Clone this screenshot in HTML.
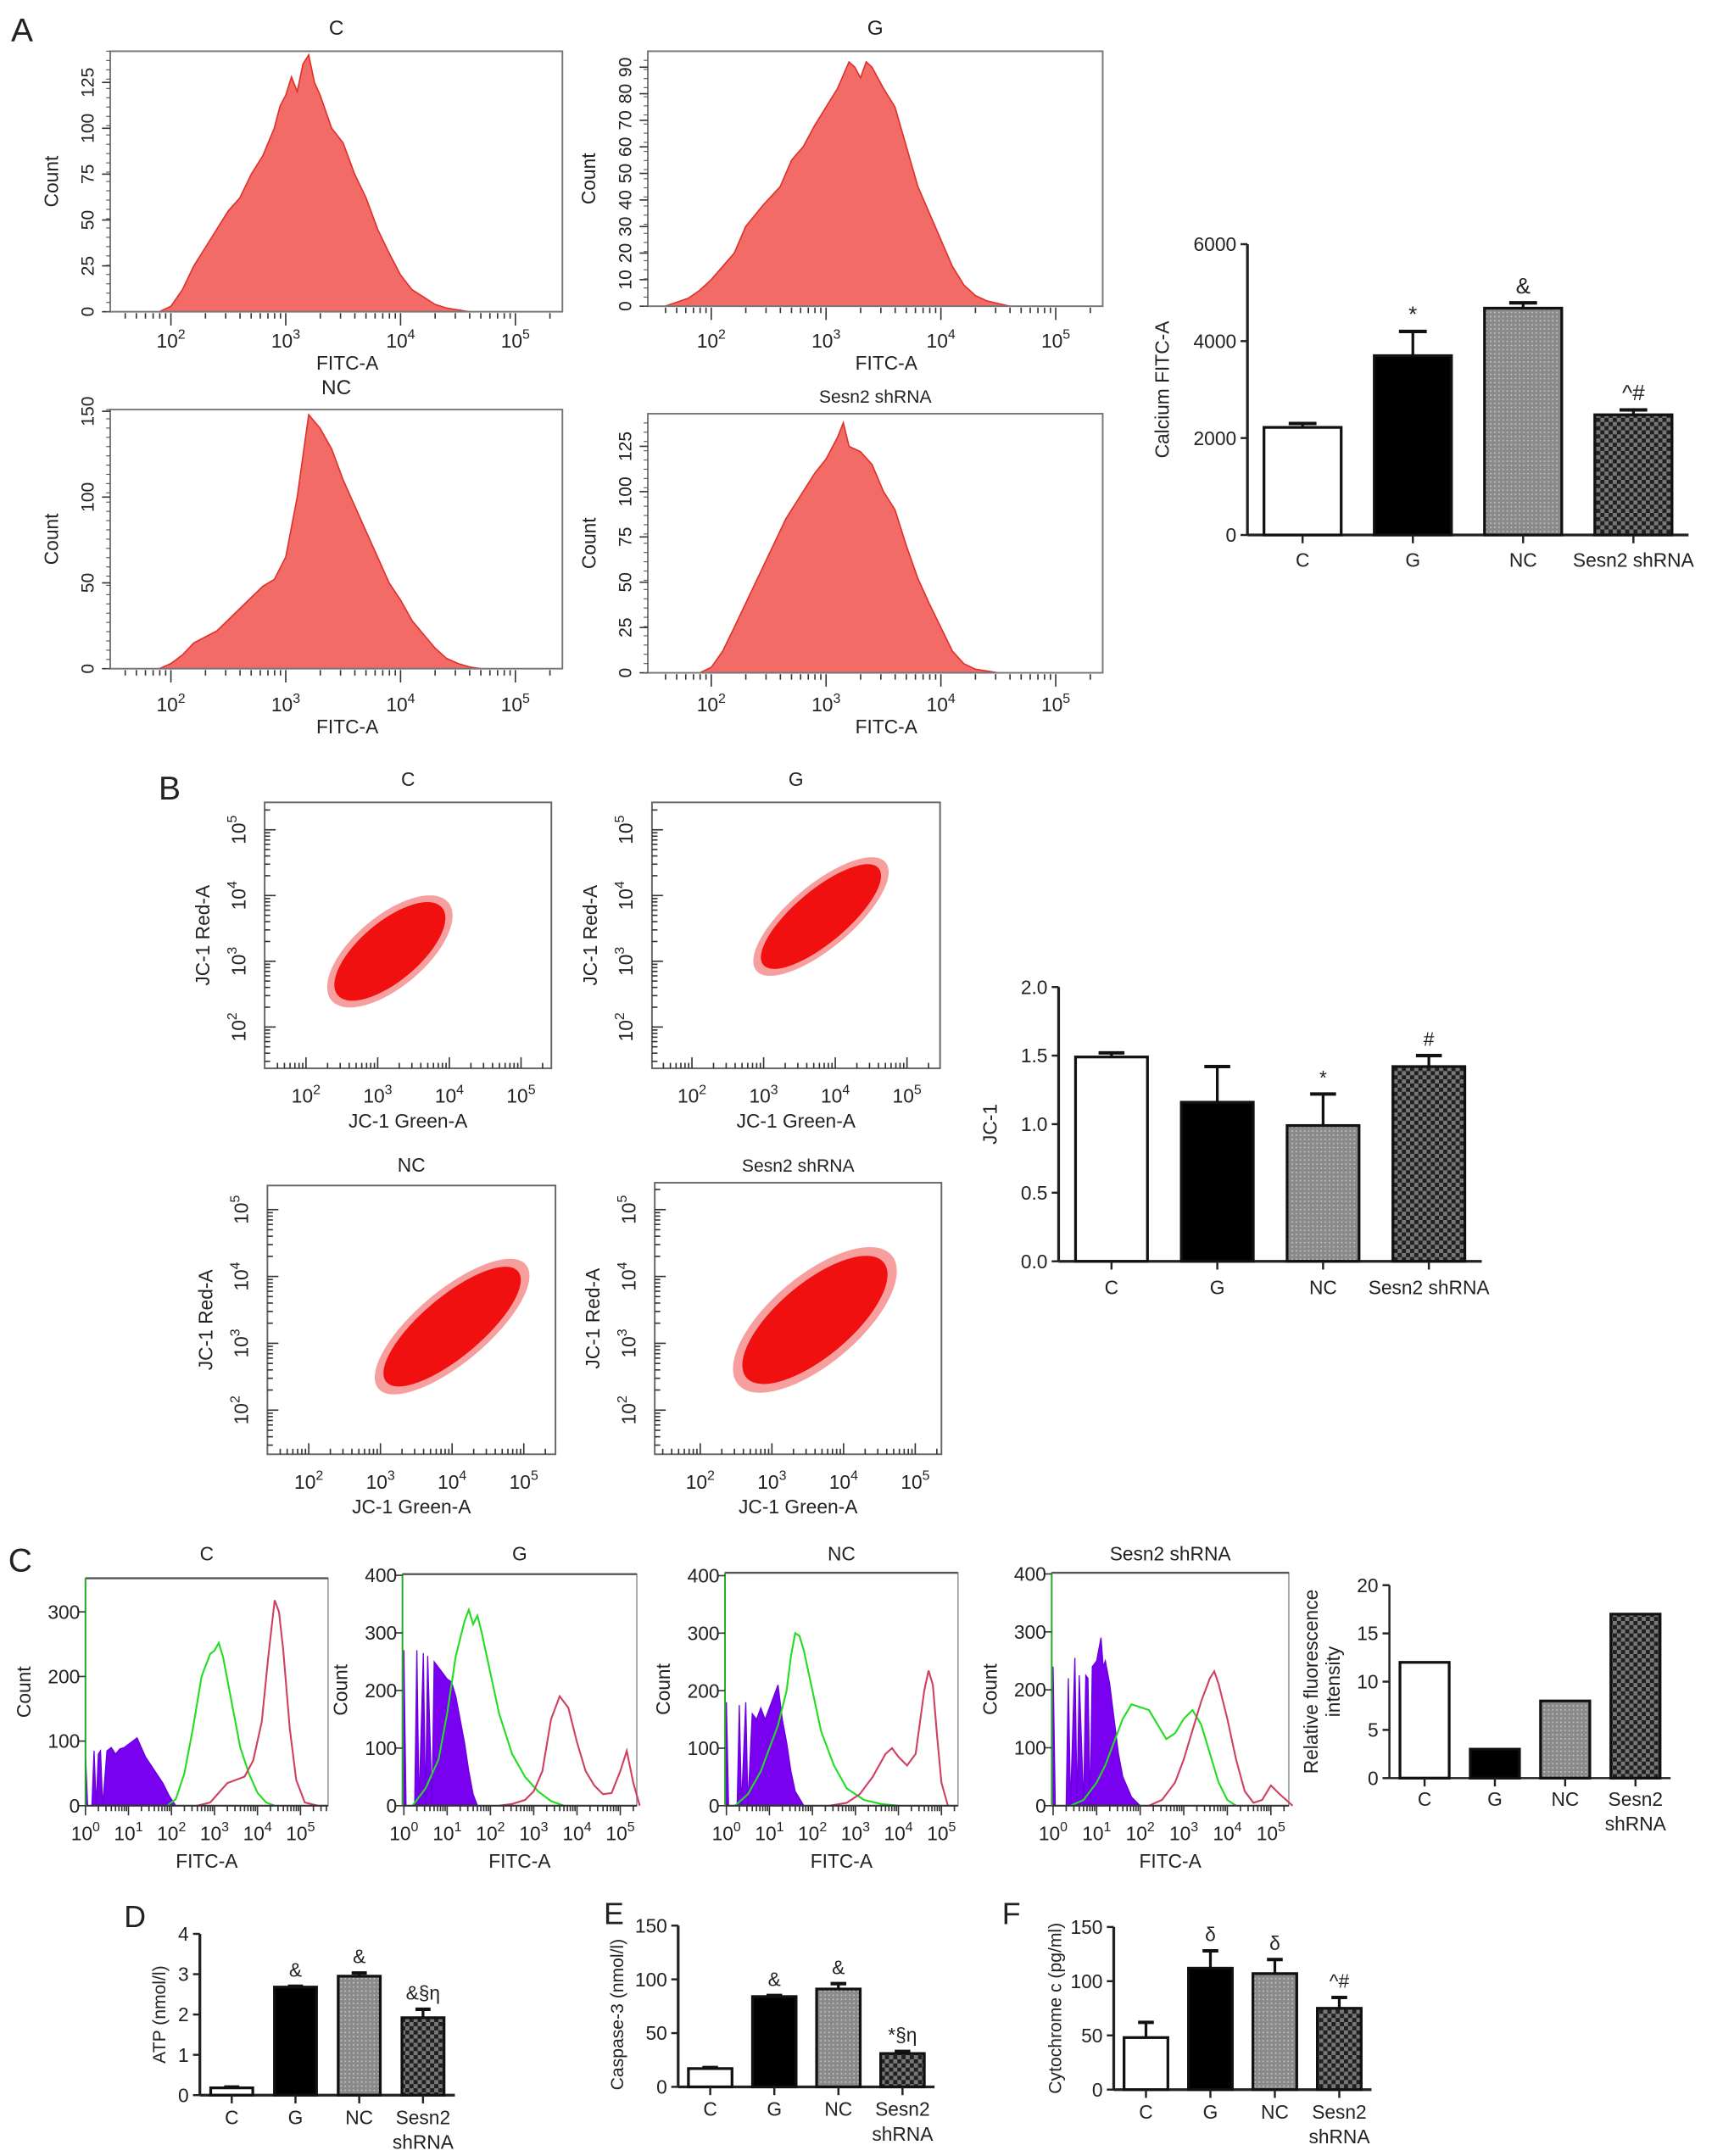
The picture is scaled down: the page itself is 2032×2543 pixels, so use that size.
<!DOCTYPE html>
<html><head><meta charset="utf-8"><style>
html,body{margin:0;padding:0;background:#fff;}
svg{display:block;font-family:"Liberation Sans",sans-serif;}
</style></head><body>
<svg id="fig" width="2032" height="2543" viewBox="0 0 1250 1564" xmlns="http://www.w3.org/2000/svg">
<defs>
<pattern id="dots" width="3" height="3" patternUnits="userSpaceOnUse"><rect width="3" height="3" fill="#8a8a8a"/><rect x="1" y="1" width="1" height="1" fill="#c8c8c8"/></pattern>
<pattern id="check" width="6" height="6" patternUnits="userSpaceOnUse"><rect width="6" height="6" fill="#202020"/><rect width="3" height="3" fill="#777"/><rect x="3" y="3" width="3" height="3" fill="#777"/></pattern>
</defs>
<g id="root"></g>
</svg>
<script>
// ---------- DATA ----------
const aC_x=[1.9,2.0,2.1,2.2,2.35,2.5,2.6,2.7,2.8,2.9,2.95,3.0,3.05,3.1,3.15,3.2,3.25,3.3,3.4,3.5,3.6,3.7,3.8,3.9,4.0,4.1,4.2,4.3,4.4,4.5,4.6];
const aC_y=[0,3,12,25,40,55,62,75,85,100,112,118,128,120,135,140,125,118,100,92,75,62,45,32,20,12,8,4,2,1,0];
const aG_x=[1.6,1.8,1.9,2.0,2.1,2.2,2.3,2.45,2.6,2.7,2.8,2.9,3.0,3.1,3.2,3.25,3.3,3.35,3.4,3.5,3.6,3.7,3.8,3.9,4.0,4.1,4.2,4.3,4.4,4.5,4.6];
const aG_y=[0,3,6,10,15,20,30,38,45,55,60,68,75,82,92,90,86,92,90,82,75,60,45,35,25,15,8,4,2,1,0];
const aNC_x=[1.9,2.0,2.1,2.2,2.4,2.6,2.8,2.9,3.0,3.1,3.2,3.3,3.4,3.5,3.6,3.7,3.8,3.9,4.0,4.1,4.2,4.3,4.4,4.5,4.6,4.7];
const aNC_y=[0,3,8,15,22,35,48,52,65,100,148,140,128,110,95,80,65,50,40,28,20,12,6,3,1,0];
const aS_x=[1.9,2.0,2.1,2.2,2.35,2.5,2.65,2.8,2.9,3.0,3.1,3.15,3.2,3.3,3.4,3.5,3.6,3.7,3.8,3.9,4.0,4.1,4.2,4.3,4.4,4.5];
const aS_y=[0,3,12,25,45,65,85,100,110,118,130,138,125,122,115,100,90,70,52,38,25,12,5,2,1,0];

const catsA=["C","G","NC","Sesn2 shRNA"];
const valsA=[2220,3700,4680,2480];
const errA=[2300,4200,4790,2580];
const annA=["","*","&","^#"];

const scCx=[3.17,3.80,4.00,3.60];
const scCy=[3.15,3.68,3.25,3.35];
const scMaj=[0.95,1.05,1.2,1.25];
const scMin=[0.45,0.4,0.45,0.55];
const scTitles=["C","G","NC","Sesn2 shRNA"];

const valsB=[1.49,1.16,0.99,1.42];
const errB=[1.52,1.42,1.22,1.50];
const annB=["","","*","#"];

const cC_px=[0,0.05,0.15,0.2,0.25,0.3,0.35,0.4,0.5,0.6,0.7,0.8,0.9,1.0,1.1,1.2,1.3,1.4,1.6,1.8,1.95,2.1];
const cC_py=[80,0,0,85,0,80,85,0,85,90,80,88,90,95,100,105,90,75,55,35,15,0];
const cC_gx=[1.9,2.1,2.3,2.5,2.7,2.9,3.0,3.1,3.2,3.4,3.6,3.8,4.0,4.2,4.4];
const cC_gy=[0,10,50,120,200,235,240,252,230,160,90,50,20,5,0];
const cC_rx=[2.6,2.9,3.1,3.3,3.5,3.7,3.9,4.1,4.25,4.4,4.5,4.6,4.75,4.9,5.1,5.4];
const cC_ry=[0,5,20,35,40,45,70,130,230,318,300,240,120,40,5,0];

const cG_px=[0,0.05,0.1,0.25,0.3,0.35,0.45,0.5,0.55,0.65,0.7,0.8,0.9,1.0,1.1,1.2,1.3,1.4,1.5,1.6,1.7];
const cG_py=[270,0,0,0,270,0,265,0,260,0,250,240,230,220,215,190,150,110,60,20,0];
const cG_gx=[0.2,0.5,0.8,1.0,1.2,1.4,1.5,1.6,1.7,1.8,2.0,2.2,2.5,2.8,3.1,3.4,3.7];
const cG_gy=[0,30,80,160,260,320,340,315,330,300,230,160,90,50,25,8,0];
const cG_rx=[2.2,2.5,2.8,3.0,3.2,3.4,3.6,3.8,4.0,4.2,4.4,4.6,4.8,5.0,5.15,5.3,5.45];
const cG_ry=[0,3,10,25,60,150,190,170,110,60,35,20,22,60,95,40,0];

const cNC_px=[0,0.05,0.1,0.25,0.3,0.35,0.45,0.5,0.6,0.7,0.8,0.9,1.0,1.1,1.2,1.3,1.4,1.5,1.6,1.8];
const cNC_py=[180,0,0,0,175,0,180,0,160,150,170,150,170,190,210,150,110,60,25,0];
const cNC_gx=[0.2,0.5,0.8,1.0,1.2,1.4,1.5,1.6,1.7,1.8,2.0,2.2,2.5,2.8,3.2,3.6,4.0];
const cNC_gy=[0,20,60,100,140,200,260,300,295,270,200,130,70,30,10,3,0];
const cNC_rx=[2.4,2.8,3.1,3.4,3.7,3.85,4.0,4.2,4.4,4.6,4.7,4.8,4.9,5.0,5.15];
const cNC_ry=[0,5,20,50,90,100,85,70,90,200,235,210,120,40,0];

const cS_px=[0,0.05,0.3,0.35,0.4,0.5,0.55,0.6,0.7,0.75,0.8,0.85,0.9,1.0,1.05,1.1,1.15,1.2,1.3,1.4,1.5,1.6,1.8,2.0];
const cS_py=[240,0,0,220,0,255,0,225,0,225,220,0,240,250,270,290,240,250,210,150,90,50,15,0];
const cS_gx=[0.4,0.7,1.0,1.2,1.4,1.6,1.8,2.0,2.2,2.4,2.6,2.8,3.0,3.2,3.4,3.6,3.8,4.0,4.2];
const cS_gy=[0,10,40,70,110,150,175,170,165,140,115,125,150,165,140,90,40,10,0];
const cS_rx=[2.2,2.5,2.8,3.0,3.2,3.4,3.6,3.7,3.8,4.0,4.2,4.4,4.6,4.8,5.0,5.2,5.5];
const cS_ry=[0,10,40,80,130,180,220,232,210,150,80,25,5,10,35,20,0];

const catsC=["C","G","NC","Sesn2|shRNA"];
const valsC=[12,3,8,17];

const catsDEF=["C","G","NC","Sesn2|shRNA"];
const valsD=[0.18,2.68,2.95,1.92];
const errD=[0.2,2.7,3.03,2.13];
const annD=["","&","&","&§η"];
const valsE=[17,84,91,31];
const errE=[18,85,96,33];
const annE=["","&","&","*§η"];
const valsF=[48,112,107,75];
const errF=[62,128,120,85];
const annF=["","δ","δ","^#"];

// ---------- DRAWING ----------
const NS="http://www.w3.org/2000/svg";
const root=document.getElementById('root');
function el(tag,attrs,parent){const e=document.createElementNS(NS,tag);for(const k in attrs)e.setAttribute(k,attrs[k]);(parent||root).appendChild(e);return e;}
function txt(x,y,s,size,parent,anchor,rot){const t=el('text',{x:x,y:y,'font-size':size,'text-anchor':anchor||'middle',fill:'#222'},parent);if(rot)t.setAttribute('transform','rotate(-90 '+x+' '+y+')');t.textContent=s;return t;}
function pow10(x,y,e,size,parent,rot){const t=el('text',{x:x,y:y,'font-size':size,'text-anchor':'middle',fill:'#222'},parent);if(rot)t.setAttribute('transform','rotate(-90 '+x+' '+y+')');t.appendChild(document.createTextNode('10'));const sp=el('tspan',{dy:-size*0.45,'font-size':size*0.7},t);sp.textContent=e;return t;}

[["A",8,30,24],["B",115,580,24],["C",6,1140,24],["D",90,1398,22],["E",438,1396,22],["F",727,1396,22]].forEach(p=>{
  const t=txt(p[1],p[2],p[0],p[3],root,'start');
  
  
});

function histA(name,box,d2,ppd,ymax,yticks,xs,ys,title,titleY,labY){
  const g=el('g',{});
  
  
  const X=v=>d2+(v-2)*ppd, Y=v=>box.y1-(v/ymax)*(box.y1-box.y0);
  let d='M'+X(xs[0])+','+Y(0);
  xs.forEach((v,i)=>{d+=' L'+X(v)+','+Y(ys[i]);});
  d+=' L'+X(xs[xs.length-1])+','+Y(0)+' Z';
  const p=el('path',{d:d,fill:'#f26b66',stroke:'#e0302a','stroke-width':1},g);
  
  
  el('rect',{x:box.x0,y:box.y0,width:box.x1-box.x0,height:box.y1-box.y0,fill:'none',stroke:'#777','stroke-width':1.2},g);
  for(let dec=1;dec<=5;dec++){for(let m=1;m<10;m++){const lv=dec+Math.log10(m);const x=X(lv);if(x<box.x0+3||x>box.x1-3)continue;el('line',{x1:x,x2:x,y1:box.y1+1,y2:box.y1+(m==1?10:5),stroke:'#333','stroke-width':1},g);}}
  for(let dec=2;dec<=5;dec++)pow10(X(dec),labY,dec,14,g);
  const xl=txt((box.x0+box.x1)/2+8,labY+16,'FITC-A',14,g);
  
  
  yticks.forEach(v=>{el('line',{x1:box.x0-6,x2:box.x0,y1:Y(v),y2:Y(v),stroke:'#333'},g);txt(box.x0-12,Y(v),String(v),13,g,'middle',true);});
  for(let v=0;v<=ymax;v+=ymax/28)el('line',{x1:box.x0-3,x2:box.x0,y1:Y(v),y2:Y(v),stroke:'#555','stroke-width':0.7},g);
  const yl=txt(box.x0-38,(box.y0+box.y1)/2,'Count',14,g,'middle',true);
  
  
  const t=txt((box.x0+box.x1)/2,titleY,title,title.length>3?13:15,g);
  
  
}
histA('c',{x0:80,x1:408,y0:37,y1:226},124,83.3,142,[0,25,50,75,100,125],aC_x,aC_y,'C',25,252);
histA('g',{x0:470,x1:800,y0:37,y1:222},516,83.3,96,[0,10,20,30,40,50,60,70,80,90],aG_x,aG_y,'G',25,252);
histA('nc',{x0:80,x1:408,y0:297,y1:485},124,83.3,151,[0,50,100,150],aNC_x,aNC_y,'NC',286,516);
histA('sesn2',{x0:470,x1:800,y0:300,y1:488},516,83.3,143,[0,25,50,75,100,125],aS_x,aS_y,'Sesn2 shRNA',292,516);

function barChart(name,cfg){
  const g=el('g',{});
  
  
  const Y=v=>cfg.y0-(v/cfg.ymax)*(cfg.y0-cfg.ytop);
  el('line',{x1:cfg.ax,x2:cfg.ax,y1:cfg.ytop,y2:cfg.y0,stroke:'#222','stroke-width':cfg.lw||2},g);
  el('line',{x1:cfg.ax,x2:cfg.xend,y1:cfg.y0,y2:cfg.y0,stroke:'#222','stroke-width':cfg.lw||2},g);
  cfg.ticks.forEach(v=>{el('line',{x1:cfg.ax-5,x2:cfg.ax,y1:Y(v),y2:Y(v),stroke:'#222','stroke-width':1.5},g);txt(cfg.ax-8,Y(v)+5,cfg.tickFmt?cfg.tickFmt(v):String(v),cfg.fs,g,'end');});
  const fills=['#fff','#000','url(#dots)','url(#check)'];
  const n=cfg.vals.length, step=(cfg.xend-cfg.ax)/n;
  cfg.vals.forEach((v,i)=>{
    const cx=cfg.ax+step*(i+0.5), w=step*cfg.bw;
    if(cfg.errs){const ey=Y(cfg.errs[i]);el('line',{x1:cx,x2:cx,y1:ey,y2:Y(v),stroke:'#111','stroke-width':2},g);el('line',{x1:cx-w*0.18,x2:cx+w*0.18,y1:ey,y2:ey,stroke:'#111','stroke-width':2.5},g);}
    const r=el('rect',{x:cx-w/2,y:Y(v),width:w,height:cfg.y0-Y(v),fill:fills[i],stroke:'#111','stroke-width':2},g);
    
    
    el('line',{x1:cx,x2:cx,y1:cfg.y0,y2:cfg.y0+6,stroke:'#222','stroke-width':1.5},g);
    const parts=cfg.cats[i].split('|');
    parts.forEach((p,j)=>txt(cx,cfg.y0+cfg.labOff+j*18,p,cfg.fs,g));
    if(cfg.anns&&cfg.anns[i]){const top=cfg.errs?Y(cfg.errs[i]):Y(v);txt(cx,top-7,cfg.anns[i],cfg.annFs||14,g);}
  });
  const yl=txt(cfg.ylx,(cfg.ytop+cfg.y0)/2+(cfg.ylOff||0),cfg.ylabel,cfg.ylfs||cfg.fs,g,'middle',true);
  
  
  if(cfg.ylabel2)txt(cfg.ylx+16,(cfg.ytop+cfg.y0)/2,cfg.ylabel2,cfg.fs,g,'middle',true);
  return g;
}
barChart('bar-chart-calcium',{ax:905,xend:1225,y0:388,ytop:177,ymax:6000,ticks:[0,2000,4000,6000],vals:valsA,errs:errA,anns:annA,cats:catsA,bw:0.7,fs:14,labOff:23,ylx:848,ylabel:'Calcium FITC-A',annFs:16});
barChart('bar-chart-jc1',{ax:768,xend:1075,y0:915,ytop:716,ymax:2.0,ticks:[0,0.5,1,1.5,2],tickFmt:v=>v.toFixed(1),vals:valsB,errs:errB,anns:annB,cats:catsA,bw:0.68,fs:14,labOff:24,ylx:723,ylabel:'JC-1'});

function scatter(i,box,d2x,ppdx,d2y,ppdy,titleY,labY){
  const g=el('g',{});
  
  
  const X=v=>d2x+(v-2)*ppdx, Y=v=>d2y-(v-2)*ppdy;
  el('rect',{x:box.x0,y:box.y0,width:box.x1-box.x0,height:box.y1-box.y0,fill:'#fff',stroke:'#666','stroke-width':1.2},g);
  const cx=X(scCx[i]),cy=Y(scCy[i]);
  el('ellipse',{cx:cx,cy:cy,rx:scMaj[i]*ppdx*1.12,ry:scMin[i]*ppdy*1.2,fill:'#f05050',opacity:0.55,transform:'rotate(-40 '+cx+' '+cy+')'},g);
  const e2=el('ellipse',{cx:cx,cy:cy,rx:scMaj[i]*ppdx,ry:scMin[i]*ppdy,fill:'#f01010',transform:'rotate(-40 '+cx+' '+cy+')'},g);
  
  
  for(let dec=1;dec<=5;dec++){for(let m=1;m<10;m++){const lv=dec+Math.log10(m);const x=X(lv);if(x>box.x0+3&&x<box.x1-3)el('line',{x1:x,x2:x,y1:box.y1,y2:box.y1-(m==1?8:4),stroke:'#333'},g);const y=Y(lv);if(y>box.y0+3&&y<box.y1-3)el('line',{x1:box.x0,x2:box.x0+(m==1?8:4),y1:y,y2:y,stroke:'#333'},g);}}
  for(let dec=2;dec<=5;dec++){pow10(X(dec),labY,dec,14,g);pow10(box.x0-14,Y(dec),dec,14,g,true);}
  txt((box.x0+box.x1)/2,labY+18,'JC-1 Green-A',14,g);
  txt(box.x0-40,(box.y0+box.y1)/2,'JC-1 Red-A',14,g,'middle',true);
  txt((box.x0+box.x1)/2,titleY,scTitles[i],i==3?13:14,g);
}
scatter(0,{x0:192,x1:400,y0:582,y1:775},222,52,745,47.7,570,800);
scatter(1,{x0:473,x1:682,y0:582,y1:775},502,52,745,47.7,570,800);
scatter(2,{x0:194,x1:403,y0:860,y1:1055},224,52,1023,48.5,850,1080);
scatter(3,{x0:475,x1:683,y0:858,y1:1055},508,52,1023,48.5,850,1080);

function histC(name,box,d0,ppd,ymax,yticks,px,py,gx,gy,rx,ry,title){
  const g=el('g',{});
  
  
  const X=v=>d0+v*ppd, Y=v=>box.y1-(v/ymax)*(box.y1-box.y0);
  el('rect',{x:box.x0,y:box.y0,width:box.x1-box.x0,height:box.y1-box.y0,fill:'#fff',stroke:'#999','stroke-width':1},g);
  el('line',{x1:box.x0,x2:box.x1,y1:box.y0,y2:box.y0,stroke:'#555','stroke-width':1.5},g);
  let d='M'+X(px[0])+','+Y(0);px.forEach((v,i)=>d+=' L'+X(v)+','+Y(py[i]));d+=' L'+X(px[px.length-1])+','+Y(0)+'Z';
  const pp=el('path',{d:d,fill:'#7a00f0',stroke:'#6a00e0','stroke-width':0.8},g);
  
  
  let dg='';gx.forEach((v,i)=>dg+=(i?' L':'M')+X(v)+','+Y(gy[i]));
  const gl=el('path',{d:dg,fill:'none',stroke:'#22dd22','stroke-width':1.3},g);
  
  
  let dr='';rx.forEach((v,i)=>dr+=(i?' L':'M')+X(v)+','+Y(ry[i]));
  const rl=el('path',{d:dr,fill:'none',stroke:'#d04060','stroke-width':1.3},g);
  
  
  el('line',{x1:box.x0,x2:box.x1,y1:box.y1,y2:box.y1,stroke:'#333','stroke-width':1.3},g);
  el('line',{x1:box.x0,x2:box.x0,y1:box.y0,y2:box.y1,stroke:'#2a2','stroke-width':1.2},g);
  for(let dec=0;dec<=5;dec++){for(let m=1;m<10;m++){const x=X(dec+Math.log10(m));if(x>box.x1)continue;el('line',{x1:x,x2:x,y1:box.y1,y2:box.y1+(m==1?7:4),stroke:'#333'},g);}pow10(X(dec),box.y1+25,dec,14,g);}
  yticks.forEach(v=>{el('line',{x1:box.x0-5,x2:box.x0,y1:Y(v),y2:Y(v),stroke:'#333'},g);txt(box.x0-4,Y(v)+5,String(v),14,g,'end');});
  txt((box.x0+box.x1)/2,box.y1+45,'FITC-A',14,g);
  txt(box.x0-40,(box.y0+box.y1)/2,'Count',14,g,'middle',true);
  txt((box.x0+box.x1)/2,1132,title,14,g);
}
histC('c',{x0:62,x1:238,y0:1145,y1:1310},62,31.2,352,[0,100,200,300],cC_px,cC_py,cC_gx,cC_gy,cC_rx,cC_ry,'C');
histC('g',{x0:292,x1:462,y0:1142,y1:1310},293,31.4,402,[0,100,200,300,400],cG_px,cG_py,cG_gx,cG_gy,cG_rx,cG_ry,'G');
histC('nc',{x0:526,x1:695,y0:1141,y1:1310},527,31.2,405,[0,100,200,300,400],cNC_px,cNC_py,cNC_gx,cNC_gy,cNC_rx,cNC_ry,'NC');
histC('sesn2',{x0:763,x1:935,y0:1141,y1:1310},764,31.6,402,[0,100,200,300,400],cS_px,cS_py,cS_gx,cS_gy,cS_rx,cS_ry,'Sesn2 shRNA');

barChart('bar-chart-relative-fluorescence',{ax:1008,xend:1212,y0:1290,ytop:1150,ymax:20,ticks:[0,5,10,15,20],vals:valsC,cats:catsC,bw:0.7,fs:14,labOff:20,ylx:956,ylabel:'Relative fluorescence',ylabel2:'intensity',lw:1.5});
barChart('bar-chart-atp',{ax:145,xend:330,y0:1520,ytop:1403,ymax:4,ticks:[0,1,2,3,4],vals:valsD,errs:errD,anns:annD,cats:catsDEF,bw:0.66,fs:14,labOff:21,ylx:120,ylabel:'ATP (nmol/l)',ylfs:13});
barChart('bar-chart-caspase3',{ax:492,xend:678,y0:1514,ytop:1397,ymax:150,ticks:[0,50,100,150],vals:valsE,errs:errE,anns:annE,cats:catsDEF,bw:0.68,fs:14,labOff:21,ylx:452,ylabel:'Caspase-3 (nmol/l)',ylfs:13,ylOff:6});
barChart('bar-chart-cytochrome-c',{ax:808,xend:995,y0:1516,ytop:1398,ymax:150,ticks:[0,50,100,150],vals:valsF,errs:errF,anns:annF,cats:catsDEF,bw:0.68,fs:14,labOff:21,ylx:770,ylabel:'Cytochrome c (pg/ml)',ylfs:13});
</script>
</body></html>
